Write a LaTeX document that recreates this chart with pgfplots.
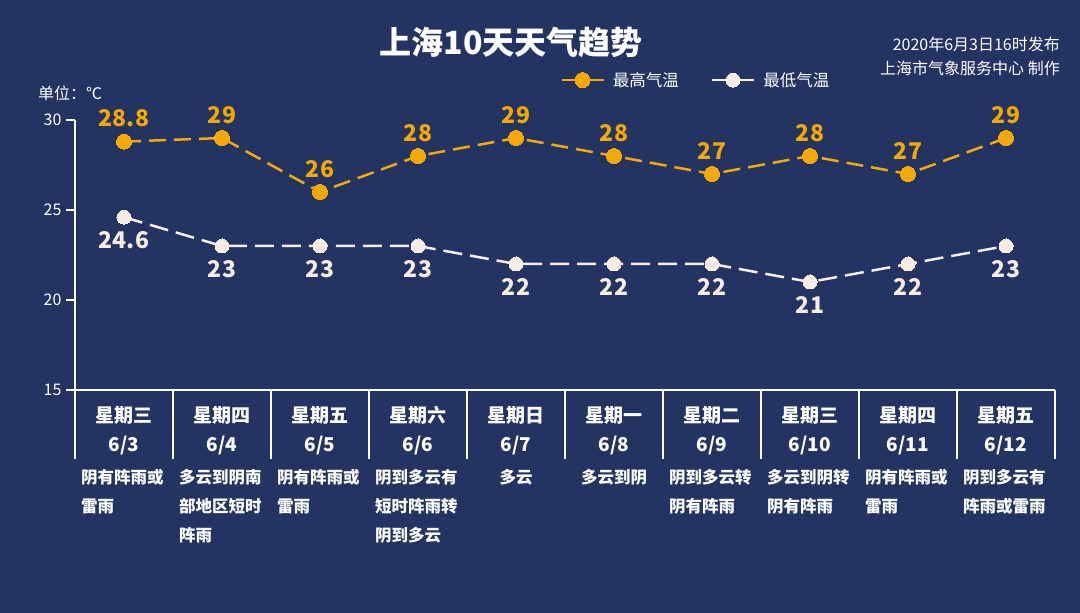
\documentclass[border=0pt]{standalone}
\usepackage{fontspec}
\setmainfont{Noto Sans CJK SC}
\usepackage{pgfplots}
\pgfplotsset{compat=1.18}
\definecolor{bgcol}{RGB}{35,51,98}
\definecolor{hicol}{RGB}{245,168,0}
\definecolor{locol}{RGB}{247,237,227}
\begin{document}
\begin{tikzpicture}
\fill[bgcol] (0,0) rectangle (1080pt,613pt);
\node[font=\bfseries\fontsize{32}{36}\selectfont, text=white] at (511pt,571pt) {上海10天天气趋势};
\node[anchor=east, inner sep=0, font=\fontsize{16}{18}\selectfont, text=white] at (1060pt,569pt) {2020年6月3日16时发布};
\node[anchor=east, inner sep=0, font=\fontsize{16}{18}\selectfont, text=white] at (1060pt,545pt) {上海市气象服务中心 制作};
\node[anchor=west, inner sep=0, font=\fontsize{16}{18}\selectfont, text=white] at (38pt,520pt) {单位：℃};
\begin{axis}[
  at={(75pt,223pt)}, anchor=south west,
  scale only axis, width=980pt, height=270pt,
  xmin=-0.5, xmax=9.5, ymin=15, ymax=30,
  clip=false,
  axis x line*=bottom, axis y line*=left,
  axis line style={white, line width=1.2pt, -},
  tick align=outside, major tick length=9pt,
  ytick={15,20,25,30},
  ytick style={white, line width=1.2pt},
  xtick={0,...,9},
  xtick style={draw=none},
  /pgf/number format/assume math mode=true,
  yticklabel style={text=white, font=\fontsize{16}{18}\selectfont, xshift=-1pt},
  xticklabel style={text=white, align=center, font=\bfseries\fontsize{19}{29}\selectfont, yshift=-4pt},
  xticklabels={{星期三\\6/3},{星期四\\6/4},{星期五\\6/5},{星期六\\6/6},{星期日\\6/7},{星期一\\6/8},{星期二\\6/9},{星期三\\6/10},{星期四\\6/11},{星期五\\6/12}},
  legend style={at={(0.495,1.148)}, anchor=west, draw=none, fill=none, text=white,
    font=\fontsize{16.5}{18}\selectfont, legend columns=2, inner sep=0pt,
    /tikz/every even column/.append style={column sep=30pt},
    /tikz/every odd column/.append style={column sep=6pt}},
  legend image code/.code={\draw[#1,solid] (0pt,0pt) -- (42pt,0pt); \path[#1,solid] plot coordinates {(21pt,0pt)};},
  point meta=explicit symbolic,
  nodes near coords,
]
\addplot[hicol, line width=2.5pt, dash pattern=on 17pt off 8pt, mark=*, mark size=7.5pt,
  mark options={solid, fill=hicol, draw=hicol, line width=0pt},
  every node near coord/.append style={text=hicol, anchor=center, inner sep=0pt, yshift=23pt, font=\bfseries\fontsize{23}{26}\selectfont}]
  coordinates {(0,28.8)[28.8] (1,29)[29] (2,26)[26] (3,28)[28] (4,29)[29] (5,28)[28] (6,27)[27] (7,28)[28] (8,27)[27] (9,29)[29]};
\addlegendentry{最高气温}
\addplot[locol, line width=2.5pt, dash pattern=on 19pt off 8pt, mark=*, mark size=7pt,
  mark options={solid, fill=locol, draw=locol, line width=0pt},
  every node near coord/.append style={text=locol, anchor=center, inner sep=0pt, yshift=-23pt, font=\bfseries\fontsize{23}{26}\selectfont}]
  coordinates {(0,24.6)[24.6] (1,23)[23] (2,23)[23] (3,23)[23] (4,22)[22] (5,22)[22] (6,22)[22] (7,21)[21] (8,22)[22] (9,23)[23]};
\addlegendentry{最低气温}
\pgfplotsinvokeforeach{0,...,10}{
  \draw[white, line width=1.2pt] (axis cs:#1-0.5,15) -- ([yshift=-69pt]axis cs:#1-0.5,15);
}
\node[anchor=north west, inner sep=0, align=left, text=white, font=\bfseries\fontsize{16.5}{29}\selectfont] at ([xshift=6pt,yshift=-79pt]axis cs:-0.5,15) {阴有阵雨或\\雷雨};
\node[anchor=north west, inner sep=0, align=left, text=white, font=\bfseries\fontsize{16.5}{29}\selectfont] at ([xshift=6pt,yshift=-79pt]axis cs:0.5,15) {多云到阴南\\部地区短时\\阵雨};
\node[anchor=north west, inner sep=0, align=left, text=white, font=\bfseries\fontsize{16.5}{29}\selectfont] at ([xshift=6pt,yshift=-79pt]axis cs:1.5,15) {阴有阵雨或\\雷雨};
\node[anchor=north west, inner sep=0, align=left, text=white, font=\bfseries\fontsize{16.5}{29}\selectfont] at ([xshift=6pt,yshift=-79pt]axis cs:2.5,15) {阴到多云有\\短时阵雨转\\阴到多云};
\node[anchor=north, inner sep=0, align=center, text=white, font=\bfseries\fontsize{16.5}{29}\selectfont] at ([yshift=-79pt]axis cs:4,15) {多云};
\node[anchor=north, inner sep=0, align=center, text=white, font=\bfseries\fontsize{16.5}{29}\selectfont] at ([yshift=-79pt]axis cs:5,15) {多云到阴};
\node[anchor=north west, inner sep=0, align=left, text=white, font=\bfseries\fontsize{16.5}{29}\selectfont] at ([xshift=6pt,yshift=-79pt]axis cs:5.5,15) {阴到多云转\\阴有阵雨};
\node[anchor=north west, inner sep=0, align=left, text=white, font=\bfseries\fontsize{16.5}{29}\selectfont] at ([xshift=6pt,yshift=-79pt]axis cs:6.5,15) {多云到阴转\\阴有阵雨};
\node[anchor=north west, inner sep=0, align=left, text=white, font=\bfseries\fontsize{16.5}{29}\selectfont] at ([xshift=6pt,yshift=-79pt]axis cs:7.5,15) {阴有阵雨或\\雷雨};
\node[anchor=north west, inner sep=0, align=left, text=white, font=\bfseries\fontsize{16.5}{29}\selectfont] at ([xshift=6pt,yshift=-79pt]axis cs:8.5,15) {阴到多云有\\阵雨或雷雨};
\end{axis}
\pgfresetboundingbox
\useasboundingbox (0,0) rectangle (1080pt,613pt);
\end{tikzpicture}
\end{document}
